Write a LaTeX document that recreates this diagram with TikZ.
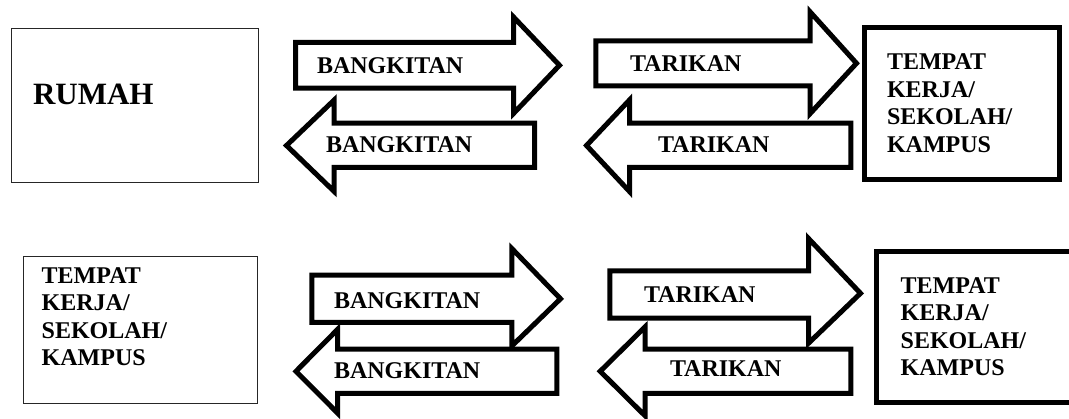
\documentclass[tikz,border=0pt]{standalone}
\usepackage{fontspec}
\setmainfont{Liberation Serif}
\begin{document}
\begin{tikzpicture}[x=1pt,y=-1pt,
  thinbox/.style={draw=black!85, line width=1.3pt, fill=white, inner sep=0pt, outer sep=0pt},
  thickbox/.style={draw=black, line width=5pt, fill=white, inner sep=0pt, outer sep=0pt},
  blockarrow/.style={draw=black, fill=white, line width=5pt, line join=miter, miter limit=10},
  lbl/.style={font=\fontsize{24}{27.5}\selectfont\bfseries, anchor=base west, inner sep=0pt, outer sep=0pt},
  biglbl/.style={font=\fontsize{31}{36}\selectfont\bfseries, anchor=base west, inner sep=0pt, outer sep=0pt}]
\useasboundingbox (0,0) rectangle (1069,419);

% ---------- boxes ----------
\node[thinbox, minimum width=246.8pt, minimum height=153.8pt] (rumah) at (135,105.5) {};
\node[thickbox, minimum width=195pt, minimum height=151.7pt] (tempat1) at (962,103.35) {};
\node[thinbox, minimum width=234.1pt, minimum height=146.8pt] (tempat2) at (140.35,330) {};
\node[thickbox, minimum width=198.5pt, minimum height=150.7pt] (tempat3) at (975.75,327.15) {};

% ---------- top row arrows ----------
\draw[blockarrow] (295.5,42.5) -- (513.5,42.5) -- (513.5,17) -- (559.5,65.3)
  -- (513.5,113.5) -- (513.5,88.2) -- (295.5,88.2) -- cycle;
\draw[blockarrow] (534.5,123.2) -- (334.2,123.2) -- (334.2,100) -- (286.5,145.5)
  -- (334.2,191.5) -- (334.2,167.5) -- (534.5,167.5) -- cycle;
\draw[blockarrow] (595.8,40.8) -- (810.2,40.8) -- (810.2,12) -- (856.5,63.3)
  -- (810.2,113.5) -- (810.2,85.8) -- (595.8,85.8) -- cycle;
\draw[blockarrow] (850.8,123.2) -- (629.5,123.2) -- (629.5,100) -- (586.5,145.5)
  -- (629.5,191.5) -- (629.5,167.5) -- (850.8,167.5) -- cycle;

% ---------- bottom row arrows ----------
\draw[blockarrow] (311.8,275.2) -- (511.8,275.2) -- (511.8,248.5) -- (560.5,298.8)
  -- (511.8,346) -- (511.8,322.5) -- (311.8,322.5) -- cycle;
\draw[blockarrow] (556.8,349.2) -- (337.5,349.2) -- (337.5,329.5) -- (296,371.3)
  -- (337.5,413) -- (337.5,393.5) -- (556.8,393.5) -- cycle;
\draw[blockarrow] (609.8,270.8) -- (808.5,270.8) -- (808.5,238.5) -- (860.5,293.3)
  -- (808.5,343.2) -- (808.5,318.2) -- (609.8,318.2) -- cycle;
\draw[blockarrow] (850.8,349.2) -- (645.2,349.2) -- (645.2,326.8) -- (600.2,371.3)
  -- (645.2,415.9) -- (645.2,393.5) -- (850.8,393.5) -- cycle;

% ---------- texts ----------
\node[biglbl] (trumah) at (33,105) {RUMAH};
\node[lbl] (ta1) at (317,74) {BANGKITAN};
\node[lbl] (ta2) at (326,152.7) {BANGKITAN};
\node[lbl] (ta3) at (630,71.7) {TARIKAN};
\node[lbl] (ta4) at (658,152.7) {TARIKAN};
\node[lbl] (ta5) at (334,308.3) {BANGKITAN};
\node[lbl] (ta6) at (334,378.3) {BANGKITAN};
\node[lbl] (ta7) at (644,302.7) {TARIKAN};
\node[lbl] (ta8) at (670,376.7) {TARIKAN};

\node[lbl] (tt1) at (887,70) {\begin{tabular}[t]{@{}l@{}}TEMPAT\\KERJA/\\SEKOLAH/\\KAMPUS\end{tabular}};
\node[lbl] (tt2) at (41.7,283.3) {\begin{tabular}[t]{@{}l@{}}TEMPAT\\KERJA/\\SEKOLAH/\\KAMPUS\end{tabular}};
\node[lbl] (tt3) at (900.7,293.3) {\begin{tabular}[t]{@{}l@{}}TEMPAT\\KERJA/\\SEKOLAH/\\KAMPUS\end{tabular}};
\end{tikzpicture}
\end{document}
